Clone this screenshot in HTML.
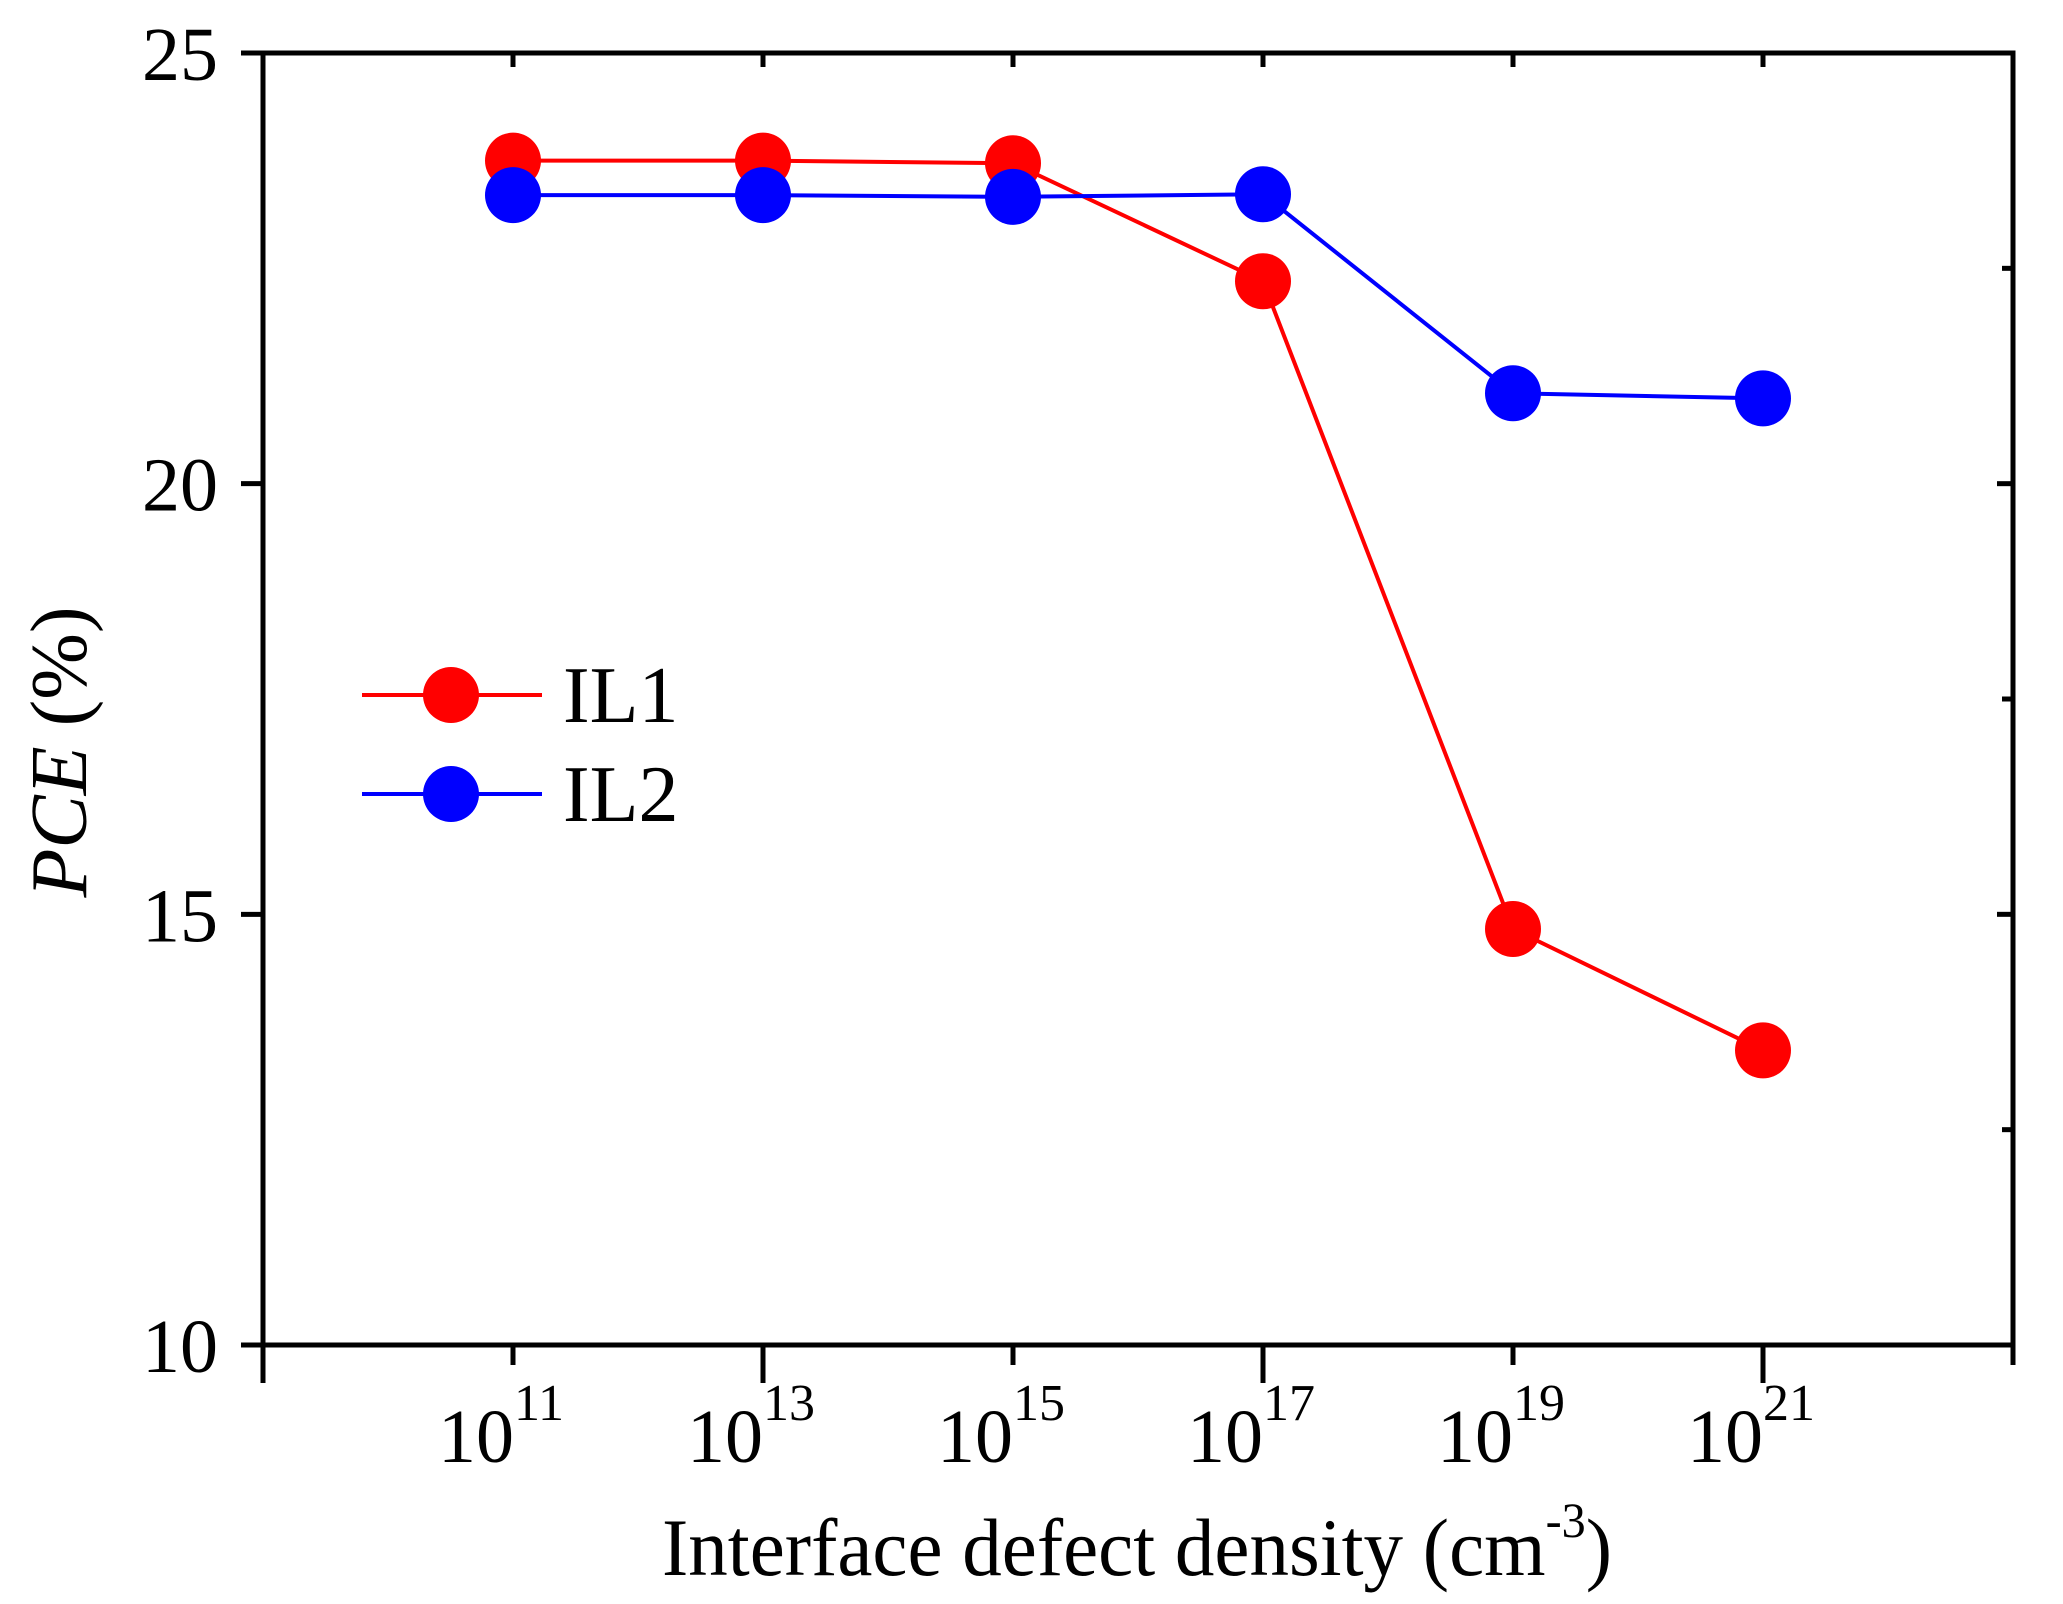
<!DOCTYPE html>
<html><head><meta charset="utf-8"><style>
html,body{margin:0;padding:0;background:#fff;}
svg{display:block;font-family:"Liberation Serif",serif;}
</style></head><body>
<svg id="chart" width="2063" height="1604" viewBox="0 0 2063 1604" xmlns="http://www.w3.org/2000/svg">
<g id="axes"></g>
<g id="series"></g>
<text x="1137" y="1575" font-size="82" text-anchor="middle" textLength="950" lengthAdjust="spacingAndGlyphs">Interface defect density (cm<tspan dy="-38" font-size="50">-3</tspan><tspan dy="38">)</tspan></text>
<text transform="translate(86,752) rotate(-90)" font-size="80" text-anchor="middle"><tspan font-style="italic">PCE</tspan> (%)</text>
<g>
<g>
<line x1="362" y1="695" x2="542" y2="695" stroke="#ff0000" stroke-width="4"/>
<circle cx="451" cy="695" r="28" fill="#ff0000"/>
<text x="563" y="722" font-size="80">IL1</text></g>
<g>
<line x1="362" y1="794" x2="542" y2="794" stroke="#0000ff" stroke-width="4"/>
<circle cx="451" cy="794" r="28" fill="#0000ff"/>
<text x="563" y="821" font-size="80">IL2</text></g>
</g>
</svg>
<script>
const exponents = [11, 13, 15, 17, 19, 21];
const il1 = [23.75, 23.75, 23.72, 22.35, 14.83, 13.42];
const il2 = [23.35, 23.35, 23.33, 23.36, 21.05, 20.99];
const yTicks = [10, 15, 20, 25];

const L=263,R=2013,T=53,B=1345;
const xS=e=>L+(e-9)/(23-9)*(R-L);
const yS=v=>B-(v-10)/(25-10)*(B-T);
const NS="http://www.w3.org/2000/svg";
function mk(tag,attrs,parent){const el=document.createElementNS(NS,tag);for(const k in attrs)el.setAttribute(k,attrs[k]);parent.appendChild(el);return el;}
const axes=document.getElementById('axes');
const frame=mk('rect',{x:L,y:T,width:R-L,height:B-T,fill:'none',stroke:'#000','stroke-width':5},axes);


for(let v=10;v<=25;v+=2.5){
  const major=yTicks.includes(v);const y=yS(v);
  const t=mk('line',{x1:major?L-22:L,x2:L,y1:y,y2:y,stroke:'#000','stroke-width':5},axes);
  
  
  const t2=mk('line',{x1:R,x2:R-(major?16:11),y1:y,y2:y,stroke:'#000','stroke-width':5},axes);
  
  
}
yTicks.forEach(v=>{
  const tx=mk('text',{x:218,y:yS(v)+27,'font-size':76,'text-anchor':'end'},axes);
  tx.textContent=v;
  
  
});
for(let e=9;e<=23;e+=2){
  const long=((e-9)%4===0);const x=xS(e);
  const t=mk('line',{x1:x,x2:x,y1:B,y2:B+(long?38:20),stroke:'#000','stroke-width':5},axes);
  
  
  const t2=mk('line',{x1:x,x2:x,y1:T,y2:T+14,stroke:'#000','stroke-width':5},axes);
  
  
}
exponents.forEach(e=>{
  const tx=mk('text',{x:xS(e)-12,y:1462,'font-size':76,'text-anchor':'middle'},axes);
  tx.textContent='10';
  const sp=mk('tspan',{dy:-42,'font-size':52},tx);
  sp.textContent=String(e);
  
  
});
const sg=document.getElementById('series');
function drawSeries(vals,color,name){
  const g=mk('g',{},sg);
  
  
  const pl=mk('polyline',{points:vals.map((v,i)=>xS(exponents[i])+','+yS(v)).join(' '),fill:'none',stroke:color,'stroke-width':4},g);
  
  
  vals.forEach((v,i)=>{
    const c=mk('circle',{cx:xS(exponents[i]),cy:yS(v),r:28,fill:color},g);
    
    
  });
}
drawSeries(il1,'#ff0000','series-il1');
drawSeries(il2,'#0000ff','series-il2');
</script>
</body></html>
